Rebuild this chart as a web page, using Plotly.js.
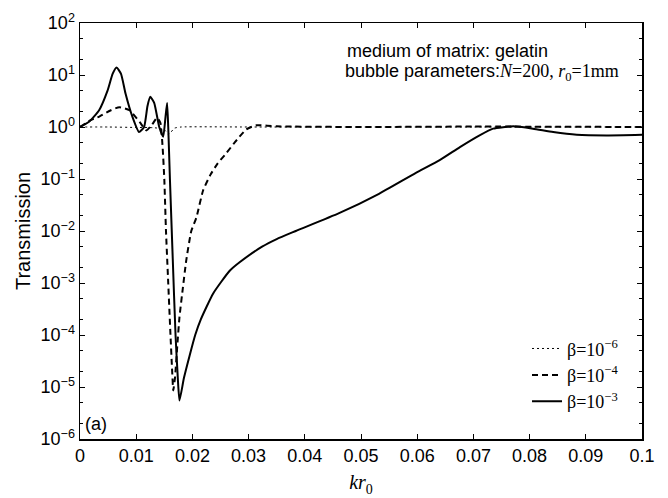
<!DOCTYPE html>
<html>
<head>
<meta charset="utf-8">
<script src="https://cdn.plot.ly/plotly-3.0.1.min.js"></script>
<style>html,body{margin:0;padding:0;background:#fff;}#chart{width:668px;height:498px;}</style>
</head>
<body>
<div id="chart"></div>
<script>
// kr0 values and transmission for each beta
const xBeta6 = [0, 0.005, 0.010, 0.013, 0.0145, 0.0152, 0.0157, 0.0162, 0.0168, 0.018, 0.03, 0.05, 0.07, 0.1];
const yBeta6 = [1.0, 1.0, 0.98, 0.97, 0.93, 0.85, 0.72, 0.8, 0.95, 1.0, 1.0, 1.0, 1.0, 1.0];

const xBeta4 = [0, 0.0016, 0.0035, 0.0055, 0.0070, 0.0088, 0.0106, 0.0118, 0.0128, 0.0137, 0.0143, 0.0147, 0.0150, 0.0153, 0.0157, 0.0161, 0.0164, 0.0166, 0.0169, 0.0173, 0.0177, 0.0183, 0.0189, 0.0198, 0.0207, 0.0219, 0.0232, 0.0245, 0.0260, 0.0275, 0.0296, 0.0314, 0.035, 0.05, 0.07, 0.1];
const yBeta4 = [1.0, 1.3, 1.6, 2.1, 2.4, 2.1, 1.25, 0.86, 1.1, 1.5, 1.2, 0.41, 0.1, 1e-2, 1e-3, 1e-4, 2e-5, 8.6e-6, 1.5e-5, 6e-5, 2.2e-4, 8e-4, 2.7e-3, 1e-2, 1.8e-2, 0.06, 0.12, 0.2, 0.31, 0.5, 0.9, 1.08, 1.03, 1.0, 1.02, 1.0];

const xBeta3 = [0, 0.0016, 0.0034, 0.0049, 0.0058, 0.0065, 0.0073, 0.0081, 0.0093, 0.0105, 0.0114, 0.0120, 0.0125, 0.0132, 0.0141, 0.0148, 0.0152, 0.0155, 0.0157, 0.0160, 0.0165, 0.0170, 0.0174, 0.0177, 0.0185, 0.0195, 0.0205, 0.0215, 0.0237, 0.0266, 0.0284, 0.0324, 0.0350, 0.0384, 0.0461, 0.0532, 0.0597, 0.0640, 0.0676, 0.0711, 0.0735, 0.0771, 0.0806, 0.0842, 0.0884, 0.0937, 0.1];
const yBeta3 = [1.0, 1.26, 2.1, 5.0, 10.5, 14, 10.5, 4.4, 1.6, 0.8, 1.0, 2.5, 3.8, 2.9, 1.0, 0.65, 1.5, 2.9, 1.0, 0.1, 3e-3, 1e-4, 1.5e-5, 5.5e-6, 1.5e-5, 4e-5, 1e-4, 2e-4, 6.3e-4, 1.7e-3, 2.5e-3, 5.0e-3, 7.0e-3, 1.0e-2, 2.2e-2, 5.2e-2, 0.13, 0.23, 0.41, 0.69, 0.93, 1.03, 0.93, 0.8, 0.71, 0.69, 0.71];

const seriesNames = ['β=10<sup>−6</sup>', 'β=10<sup>−4</sup>', 'β=10<sup>−3</sup>'];
const xTickVals = [0, 0.01, 0.02, 0.03, 0.04, 0.05, 0.06, 0.07, 0.08, 0.09, 0.1];
const xTickText = ['0', '0.01', '0.02', '0.03', '0.04', '0.05', '0.06', '0.07', '0.08', '0.09', '0.1'];
const yTickVals = [1e-6, 1e-5, 1e-4, 1e-3, 1e-2, 1e-1, 1, 10, 100];
const yTickText = ['10<sup>−6</sup>', '10<sup>−5</sup>', '10<sup>−4</sup>', '10<sup>−3</sup>', '10<sup>−2</sup>', '10<sup>−1</sup>', '10<sup>0</sup>', '10<sup>1</sup>', '10<sup>2</sup>'];

const sans = 'Arial, Liberation Sans, sans-serif';
const serif = 'Liberation Serif, Times New Roman, serif';
const base = {shape: 'spline', smoothing: 0.5, color: '#000'};
const traces = [
  {x: xBeta6, y: yBeta6, name: seriesNames[0], mode: 'lines', line: Object.assign({}, base, {width: 1, dash: '2px,3px'})},
  {x: xBeta4, y: yBeta4, name: seriesNames[1], mode: 'lines', line: Object.assign({}, base, {width: 2, dash: '6px,4px'})},
  {x: xBeta3, y: yBeta3, name: seriesNames[2], mode: 'lines', line: Object.assign({}, base, {width: 2})}
];

const axisFont = {family: sans, size: 18, color: '#000'};
const layout = {
  width: 668, height: 498,
  margin: {l: 80, r: 26, t: 23, b: 59},
  paper_bgcolor: '#fff', plot_bgcolor: '#fff',
  showlegend: true,
  legend: {
    x: 0.968, y: 0.045, xanchor: 'right', yanchor: 'bottom',
    font: {family: serif, size: 18, color: '#000'},
    bgcolor: 'rgba(0,0,0,0)', borderwidth: 0, tracegroupgap: 0, itemwidth: 30
  },
  xaxis: {
    range: [0, 0.1], tickvals: xTickVals, ticktext: xTickText,
    ticks: 'inside', ticklen: 5, tickwidth: 1, tickcolor: '#000',
    showline: true, linecolor: '#000', linewidth: 1.5, mirror: 'allticks',
    showgrid: false, zeroline: false, tickfont: axisFont,
    title: {text: '<i>kr</i><sub>0</sub>', font: {family: serif, size: 20, color: '#000'}, standoff: 10}
  },
  yaxis: {
    type: 'log', range: [-6, 2], tickvals: yTickVals, ticktext: yTickText,
    ticks: 'inside', ticklen: 5, tickwidth: 1, tickcolor: '#000',
    minor: {ticks: 'inside', ticklen: 3, tickcolor: '#000', showgrid: false},
    showline: true, linecolor: '#000', linewidth: 1.5, mirror: 'allticks',
    showgrid: false, zeroline: false, tickfont: axisFont,
    title: {text: 'Transmission', font: {family: sans, size: 20, color: '#000'}, standoff: 4}
  },
  annotations: [
    {xref: 'paper', yref: 'paper', x: 0.471, y: 0.932, xanchor: 'left', yanchor: 'middle', showarrow: false,
     text: 'medium of matrix: gelatin', font: {family: sans, size: 18, color: '#000'}},
    {xref: 'paper', yref: 'paper', x: 0.4675, y: 0.882, xanchor: 'left', yanchor: 'middle', showarrow: false,
     text: 'bubble parameters:<span style="font-family:Liberation Serif, Times New Roman, serif"><i>N</i>=200, <i>r</i><sub>0</sub>=1mm</span>',
     font: {family: sans, size: 18, color: '#000'}},
    {xref: 'paper', yref: 'paper', x: 0.006, y: 0.035, xanchor: 'left', yanchor: 'middle', showarrow: false,
     text: '(a)', font: {family: sans, size: 18, color: '#000'}}
  ]
};

Plotly.newPlot('chart', traces, layout, {staticPlot: true, displayModeBar: false});
</script>
</body>
</html>
